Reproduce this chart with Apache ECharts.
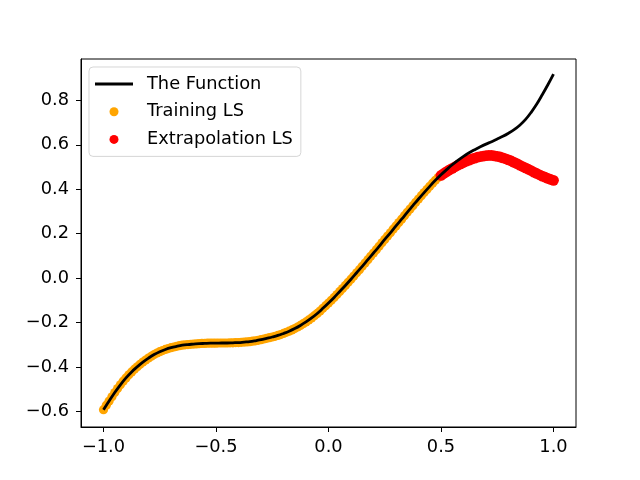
<!DOCTYPE html>
<html>
<head>
<meta charset="utf-8">
<script src="https://cdn.jsdelivr.net/npm/echarts@6/dist/echarts.min.js"></script>
<style>
html,body{margin:0;padding:0;background:#fff;}
#chart{width:640px;height:480px;}
</style>
</head>
<body>
<div id="chart"></div>
<script>
// ---- data ----
const funcX = [-1.000,-0.975,-0.950,-0.925,-0.900,-0.875,-0.850,-0.825,-0.800,-0.775,
  -0.750,-0.725,-0.700,-0.675,-0.650,-0.625,-0.600,-0.575,-0.550,-0.525,
  -0.500,-0.475,-0.450,-0.425,-0.400,-0.375,-0.350,-0.325,-0.300,-0.275,
  -0.250,-0.225,-0.200,-0.175,-0.150,-0.125,-0.100,-0.075,-0.050,-0.025,
  0.000,0.025,0.050,0.075,0.100,0.125,0.150,0.175,0.200,0.225,
  0.250,0.275,0.300,0.325,0.350,0.375,0.400,0.425,0.450,0.475,
  0.500,0.525,0.550,0.575,0.600,0.625,0.650,0.675,0.700,0.725,
  0.750,0.775,0.800,0.825,0.850,0.875,0.900,0.925,0.950,0.975,1.000];
const funcY = [-0.592,-0.553,-0.515,-0.480,-0.449,-0.422,-0.399,-0.378,-0.360,-0.344,
  -0.331,-0.321,-0.313,-0.307,-0.302,-0.299,-0.297,-0.295,-0.294,-0.293,
  -0.293,-0.292,-0.292,-0.291,-0.290,-0.288,-0.286,-0.282,-0.277,-0.271,
  -0.265,-0.258,-0.249,-0.239,-0.227,-0.213,-0.197,-0.179,-0.159,-0.136,
  -0.112,-0.087,-0.060,-0.033,-0.005,0.024,0.053,0.083,0.113,0.143,
  0.174,0.204,0.235,0.265,0.296,0.326,0.356,0.385,0.413,0.440,
  0.465,0.488,0.510,0.530,0.548,0.564,0.578,0.591,0.603,0.614,
  0.626,0.638,0.652,0.668,0.688,0.713,0.745,0.782,0.825,0.870,0.918];

const trainX = [-1.0000,-0.9875,-0.9750,-0.9625,-0.9500,-0.9375,-0.9250,-0.9125,-0.9000,-0.8875,
  -0.8750,-0.8625,-0.8500,-0.8375,-0.8250,-0.8125,-0.8000,-0.7875,-0.7750,-0.7625,
  -0.7500,-0.7375,-0.7250,-0.7125,-0.7000,-0.6875,-0.6750,-0.6625,-0.6500,-0.6375,
  -0.6250,-0.6125,-0.6000,-0.5875,-0.5750,-0.5625,-0.5500,-0.5375,-0.5250,-0.5125,
  -0.5000,-0.4875,-0.4750,-0.4625,-0.4500,-0.4375,-0.4250,-0.4125,-0.4000,-0.3875,
  -0.3750,-0.3625,-0.3500,-0.3375,-0.3250,-0.3125,-0.3000,-0.2875,-0.2750,-0.2625,
  -0.2500,-0.2375,-0.2250,-0.2125,-0.2000,-0.1875,-0.1750,-0.1625,-0.1500,-0.1375,
  -0.1250,-0.1125,-0.1000,-0.0875,-0.0750,-0.0625,-0.0500,-0.0375,-0.0250,-0.0125,
  0.0000,0.0125,0.0250,0.0375,0.0500,0.0625,0.0750,0.0875,0.1000,0.1125,
  0.1250,0.1375,0.1500,0.1625,0.1750,0.1875,0.2000,0.2125,0.2250,0.2375,
  0.2500,0.2625,0.2750,0.2875,0.3000,0.3125,0.3250,0.3375,0.3500,0.3625,
  0.3750,0.3875,0.4000,0.4125,0.4250,0.4375,0.4500,0.4625,0.4750,0.4875,0.5000];
const trainY = [-0.592,-0.572,-0.553,-0.534,-0.515,-0.497,-0.480,-0.464,-0.449,-0.435,
  -0.422,-0.410,-0.399,-0.388,-0.378,-0.369,-0.360,-0.352,-0.344,-0.337,
  -0.331,-0.326,-0.321,-0.317,-0.313,-0.310,-0.307,-0.304,-0.302,-0.300,
  -0.299,-0.298,-0.297,-0.296,-0.295,-0.294,-0.294,-0.293,-0.293,-0.293,
  -0.293,-0.292,-0.292,-0.292,-0.292,-0.291,-0.291,-0.290,-0.290,-0.289,
  -0.288,-0.287,-0.286,-0.284,-0.282,-0.280,-0.277,-0.274,-0.271,-0.268,
  -0.265,-0.262,-0.258,-0.254,-0.249,-0.244,-0.239,-0.233,-0.227,-0.220,
  -0.213,-0.205,-0.197,-0.188,-0.179,-0.169,-0.159,-0.148,-0.136,-0.124,
  -0.112,-0.100,-0.087,-0.074,-0.060,-0.047,-0.033,-0.019,-0.005,0.009,
  0.024,0.038,0.053,0.068,0.083,0.098,0.113,0.128,0.143,0.159,
  0.174,0.189,0.204,0.220,0.235,0.250,0.265,0.281,0.296,0.311,
  0.326,0.341,0.356,0.371,0.385,0.399,0.413,0.427,0.440,0.453,0.465];

const extraX = [0.5000,0.5125,0.5250,0.5375,0.5500,0.5625,0.5750,0.5875,0.6000,0.6125,
  0.6250,0.6375,0.6500,0.6625,0.6750,0.6875,0.7000,0.7125,0.7250,0.7375,
  0.7500,0.7625,0.7750,0.7875,0.8000,0.8125,0.8250,0.8375,0.8500,0.8625,
  0.8750,0.8875,0.9000,0.9125,0.9250,0.9375,0.9500,0.9625,0.9750,0.9875,1.0000];
const extraY = [0.462,0.471,0.479,0.487,0.494,0.501,0.508,0.514,0.520,0.526,
  0.531,0.536,0.540,0.544,0.547,0.549,0.551,0.552,0.552,0.550,
  0.548,0.545,0.541,0.537,0.532,0.527,0.521,0.515,0.508,0.502,
  0.496,0.490,0.484,0.477,0.471,0.465,0.459,0.454,0.449,0.444,0.440];

const xTicks = [-1.0,-0.5,0.0,0.5,1.0];
const yTicks = [-0.6,-0.4,-0.2,0.0,0.2,0.4,0.6,0.8];
const seriesNames = ['The Function','Training LS','Extrapolation LS'];

// ---- chart ----
const FONT = 'DejaVu Sans';
const FS = 17.8;
function fmt(v){ return (v < 0 ? '\u2212' : '') + Math.abs(v).toFixed(1); }
function pairs(xs, ys){ return xs.map((x,i)=>[x, ys[i]]); }

const chart = echarts.init(document.getElementById('chart'), null, {renderer:'canvas'});
chart.setOption({
  animation: false,
  backgroundColor: '#ffffff',
  grid: {left: 81, right: 64, top: 59, bottom: 53, show: true,
         borderColor: '#000', borderWidth: 1, backgroundColor: 'transparent'},
  xAxis: {
    type: 'value', min: -1.1, max: 1.1,
    splitLine: {show: false},
    axisLine: {show: true, onZero: false, lineStyle: {color: '#000', width: 1}},
    axisTick: {show: true, length: 5, inside: false, customValues: xTicks,
               lineStyle: {color: '#000', width: 1}},
    axisLabel: {customValues: xTicks, formatter: fmt, color: '#000',
                fontFamily: FONT, fontSize: FS, margin: 11}
  },
  yAxis: {
    type: 'value', min: -0.67, max: 0.986,
    splitLine: {show: false},
    axisLine: {show: true, onZero: false, lineStyle: {color: '#000', width: 1}},
    axisTick: {show: true, length: 5, inside: false, customValues: yTicks,
               lineStyle: {color: '#000', width: 1}},
    axisLabel: {customValues: yTicks, formatter: fmt, color: '#000',
                fontFamily: FONT, fontSize: FS, margin: 12}
  },
  legend: {
    orient: 'vertical', left: 89, top: 67,
    padding: [8, 8, 8, 6],
    itemWidth: 38, itemHeight: 9, itemGap: 9.7,
    backgroundColor: 'rgba(255,255,255,0.8)',
    borderColor: 'rgba(204,204,204,0.8)', borderWidth: 1, borderRadius: 4,
    textStyle: {color: '#000', fontFamily: FONT, fontSize: FS, lineHeight: 17,
                padding: [0, 0, 0, 9]},
    data: [
      {name: seriesNames[0], icon: 'path://M0,0L38,0L38,2.8L0,2.8Z', itemStyle: {color: '#000'}},
      {name: seriesNames[1], icon: 'circle'},
      {name: seriesNames[2], icon: 'circle'}
    ]
  },
  series: [
    {name: seriesNames[0], type: 'line', data: pairs(funcX, funcY),
     symbol: 'none', smooth: 0.4, z: 5,
     lineStyle: {color: '#000', width: 2.8}, itemStyle: {color: '#000'},
     silent: true},
    {name: seriesNames[1], type: 'scatter', data: pairs(trainX, trainY),
     symbol: 'circle', symbolSize: 9.2, z: 2,
     itemStyle: {color: '#FFA500', opacity: 1}, silent: true},
    {name: seriesNames[2], type: 'scatter', data: pairs(extraX, extraY),
     symbol: 'circle', symbolSize: 10.8, z: 3,
     itemStyle: {color: '#FF0000', opacity: 1}, silent: true}
  ]
});
</script>
</body>
</html>
